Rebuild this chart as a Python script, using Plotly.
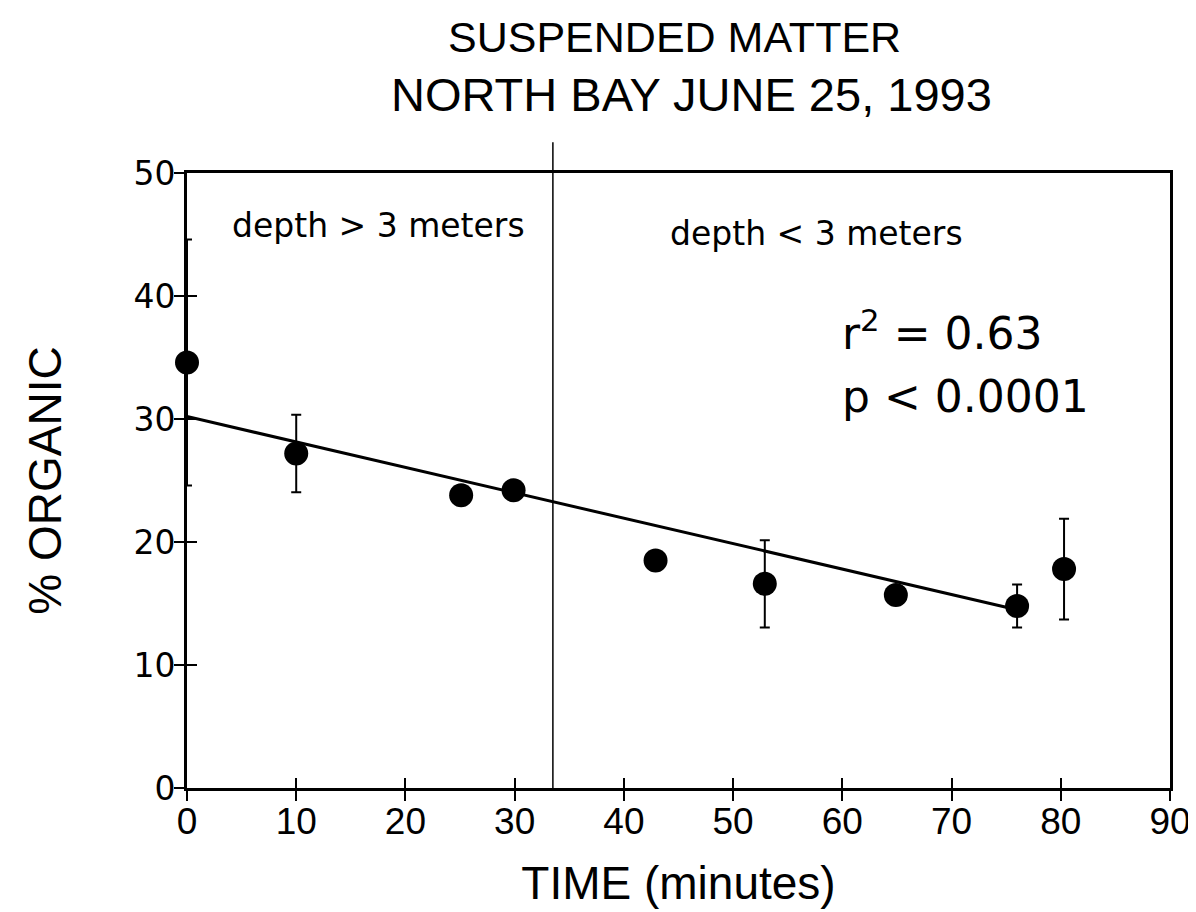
import plotly.graph_objects as go

# ---- data ----
time_min = [0.0, 10.0, 25.1, 29.9, 42.9, 52.9, 64.9, 76.0, 80.3]
pct_organic = [34.6, 27.2, 23.8, 24.2, 18.5, 16.6, 15.7, 14.8, 17.8]
err_organic = [10.0, 3.15, 0.0, 0.0, 0.0, 3.55, 0.0, 1.75, 4.1]

fit_x = [0.0, 75.0]
fit_y = [30.2, 14.7]

split_time = 33.5

x_ticks = [0, 10, 20, 30, 40, 50, 60, 70, 80, 90]
y_ticks = [0, 10, 20, 30, 40, 50]

title_lines = ["SUSPENDED MATTER", "NORTH BAY JUNE 25, 1993"]

ARIAL = "Liberation Sans, Arial, sans-serif"
SANS = "DejaVu Sans, sans-serif"

fig = go.Figure()

fig.add_trace(go.Scatter(
    x=fit_x, y=fit_y, mode="lines",
    line=dict(color="black", width=3),
    showlegend=False, hoverinfo="skip",
))

fig.add_trace(go.Scatter(
    x=time_min, y=pct_organic, mode="markers",
    marker=dict(color="black", size=24, line=dict(width=0)),
    error_y=dict(type="data", array=err_organic, visible=True,
                 color="black", thickness=2, width=5),
    cliponaxis=False, showlegend=False,
))

# dummy trace to carry the overlay axes used for the inner half of the crossing ticks
fig.add_trace(go.Scatter(x=[None], y=[None], xaxis="x2", yaxis="y2",
                         showlegend=False, hoverinfo="skip"))

axis_common = dict(showgrid=False, zeroline=False, automargin=False)

# the page body adds an 8px offset, so margins are shifted by 8px
fig.update_layout(
    width=1196, height=912,
    paper_bgcolor="white", plot_bgcolor="white",
    margin=dict(l=179, r=34, t=165, b=132),
    xaxis=dict(
        **axis_common, range=[0, 90], tickvals=x_ticks,
        ticks="outside", ticklen=10, tickwidth=2, tickcolor="black",
        showline=True, linecolor="black", linewidth=3, mirror=True,
        tickfont=dict(family=ARIAL, size=37, color="black"),
        ticklabelstandoff=-11,
        title=dict(text="TIME (minutes)", standoff=26,
                   font=dict(family=ARIAL, size=46, color="black")),
    ),
    yaxis=dict(
        **axis_common, range=[0, 50], tickvals=y_ticks,
        ticks="outside", ticklen=10, tickwidth=2, tickcolor="black",
        showline=True, linecolor="black", linewidth=3, mirror=True,
        tickfont=dict(family=SANS, size=33, color="black"),
        ticklabelstandoff=-8,
        title=dict(text="% ORGANIC", standoff=58,
                   font=dict(family=ARIAL, size=46, color="black")),
    ),
    xaxis2=dict(
        **axis_common, range=[0, 90], tickvals=x_ticks, overlaying="x",
        anchor="y2", side="bottom", ticks="inside", ticklen=10, tickwidth=2,
        tickcolor="black", showticklabels=False, showline=False,
    ),
    yaxis2=dict(
        **axis_common, range=[0, 50], tickvals=y_ticks, overlaying="y",
        anchor="x2", side="left", ticks="inside", ticklen=10, tickwidth=2,
        tickcolor="black", showticklabels=False, showline=False,
    ),
    shapes=[dict(type="line", xref="x", yref="paper",
                 x0=split_time, x1=split_time, y0=0, y1=1.05,
                 line=dict(color="black", width=1.5))],
    annotations=[
        dict(text=title_lines[0], x=674, y=37, xref="paper", yref="paper",
             xanchor="center", yanchor="middle", showarrow=False,
             font=dict(family=ARIAL, size=43, color="black")),
        dict(text=title_lines[1], x=691, y=94, xref="paper", yref="paper",
             xanchor="center", yanchor="middle", showarrow=False,
             font=dict(family=ARIAL, size=47, color="black")),
        dict(text="depth &gt; 3 meters", x=17.5, y=45.7, xref="x", yref="y",
             showarrow=False, font=dict(family=SANS, size=33, color="black")),
        dict(text="depth &lt; 3 meters", x=57.6, y=45.1, xref="x", yref="y",
             showarrow=False, font=dict(family=SANS, size=33, color="black")),
        dict(text="r<sup>2</sup> = 0.63", x=59.8, y=37.2, xref="x", yref="y",
             xanchor="left", showarrow=False,
             font=dict(family=SANS, size=44, color="black")),
        dict(text="p &lt; 0.0001", x=59.8, y=31.8, xref="x", yref="y",
             xanchor="left", showarrow=False,
             font=dict(family=SANS, size=44, color="black")),
    ],
)

# convert the title pixel centres (page pixels) to paper coordinates of the plot area
plot_l, plot_t = 187, 173
plot_w, plot_h = 1196 - 179 - 34, 912 - 165 - 132
for ann in fig.layout.annotations[:2]:
    ann.x = (ann.x - plot_l) / plot_w
    ann.y = 1 + (plot_t - ann.y) / plot_h

fig.write_html("out.html")
